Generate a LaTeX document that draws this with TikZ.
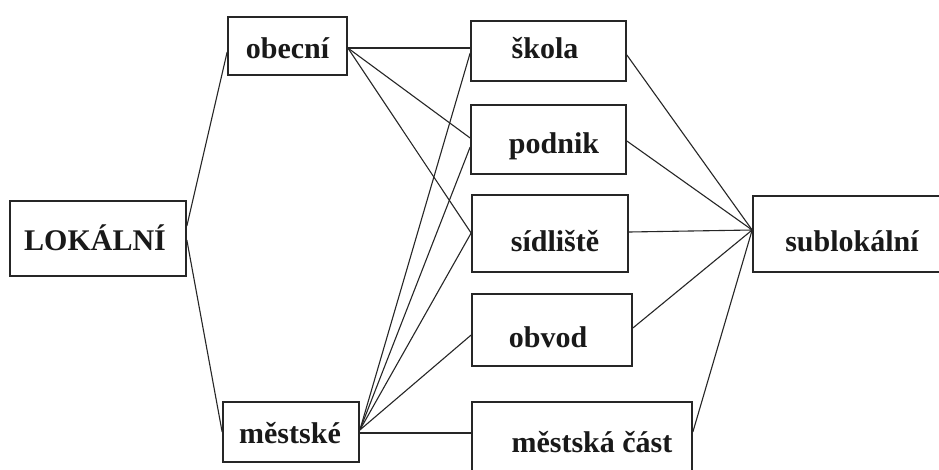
\documentclass[tikz,border=0pt]{standalone}
\usepackage{fontspec}
\setmainfont{Liberation Serif}
\begin{document}
\begin{tikzpicture}[x=1pt,y=-1pt,
  box/.style={draw=black!85,line width=1.7pt,inner sep=0pt,rectangle},
  lbl/.style={inner sep=0pt,anchor=base,font=\fontsize{30}{36}\selectfont\bfseries,text=black!90},
  link/.style={draw=black!85,line width=1.1pt}]
\clip (0,0) rectangle (939,469);
\fill[white] (0,0) rectangle (939,469);

% boxes
\node[box,minimum width=176pt,minimum height=75pt] (lok) at (98,238.5) {};
\node[box,minimum width=119pt,minimum height=58pt] (obec) at (287.5,46) {};
\node[box,minimum width=136pt,minimum height=60pt] (mest) at (291,432) {};
\node[box,minimum width=155pt,minimum height=60pt] (skola) at (548.5,51) {};
\node[box,minimum width=155pt,minimum height=69pt] (podnik) at (548.5,139.5) {};
\node[box,minimum width=156pt,minimum height=77pt] (sidl) at (550,233.5) {};
\node[box,minimum width=160pt,minimum height=72pt] (obvod) at (552,330) {};
\node[box,minimum width=220pt,minimum height=98pt] (mcast) at (582,451) {};
\node[box,minimum width=217pt,minimum height=76pt] (sub) at (861.5,234) {};

% labels
\node[lbl] (loktxt) at (95,250) {LOKÁLNÍ};
\node[lbl] (obectxt) at (287.5,58) {obecní};
\node[lbl] (mesttxt) at (290,443) {městské};
\node[lbl] (skolatxt) at (545,58) {škola};
\node[lbl] (podniktxt) at (554,153) {podnik};
\node[lbl] (sidltxt) at (555,251) {sídliště};
\node[lbl] (obvodtxt) at (548,347) {obvod};
\node[lbl] (mcasttxt) at (592,452) {městská část};
\node[lbl] (subtxt) at (852,251) {sublokální};

% first level
\draw[link] ([yshift=12.5pt]lok.east) -- ([yshift=-6pt]obec.west);
\draw[link] ([yshift=-1.5pt]lok.east) -- (mest.west);

% obecní
\draw[link] ([yshift=-2pt]obec.east) -- ([yshift=3pt]skola.west);
\draw[link] ([yshift=-2pt]obec.east) -- ([yshift=1.5pt]podnik.west);
\draw[link] ([yshift=-2pt]obec.east) -- ([yshift=0.5pt]sidl.west);

% městské
\draw[link] ([yshift=2pt]mest.east) -- ([yshift=-2pt]skola.west);
\draw[link] ([yshift=2pt]mest.east) -- ([yshift=-7.5pt]podnik.west);
\draw[link] ([yshift=2pt]mest.east) -- ([yshift=0.5pt]sidl.west);
\draw[link] ([yshift=2pt]mest.east) -- ([yshift=-5pt]obvod.west);
\draw[link] ([yshift=-1pt]mest.east) -- ([yshift=18pt]mcast.west);

% sublokální
\draw[link] ([yshift=-4pt]skola.east) -- ([yshift=4pt]sub.west);
\draw[link] ([yshift=-1.5pt]podnik.east) -- ([yshift=4pt]sub.west);
\draw[link] ([yshift=1.5pt]sidl.east) -- ([yshift=4pt]sub.west);
\draw[link] ([yshift=2pt]obvod.east) -- ([yshift=4pt]sub.west);
\draw[link] ([yshift=19pt]mcast.east) -- ([yshift=4pt]sub.west);
\end{tikzpicture}
\end{document}
